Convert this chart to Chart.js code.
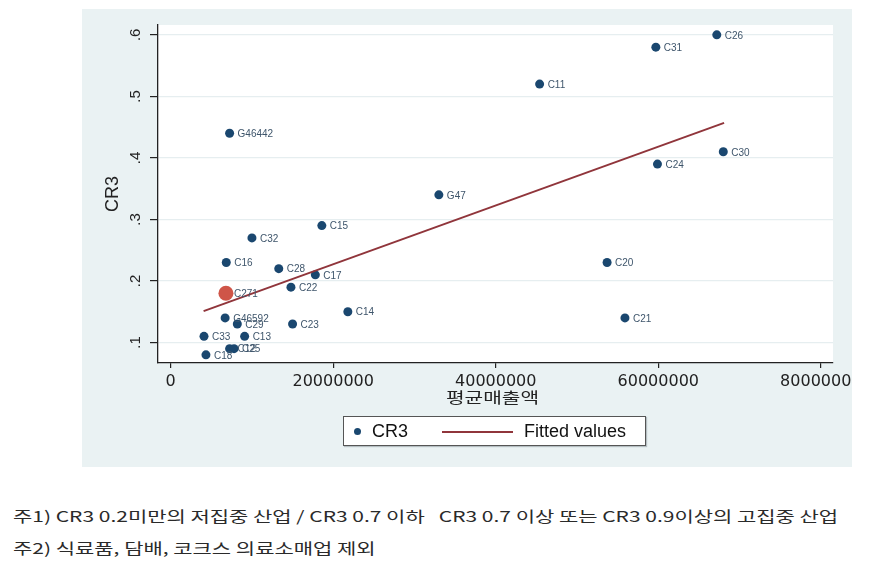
<!DOCTYPE html>
<html>
<head>
<meta charset="utf-8">
<script src="https://cdn.jsdelivr.net/npm/chart.js@4.4.1/dist/chart.umd.min.js"></script>
<style>
    body { margin: 0; width: 870px; height: 576px; background: #fff; position: relative; overflow: hidden;
           font-family: "Liberation Sans", Arial, sans-serif; }
    #panel { position: absolute; left: 82px; top: 9px; width: 770px; height: 458px; background: #eaf2f3; }
    #legend { position: absolute; left: 343px; top: 416px; width: 301px; height: 28px; background: #fff;
              border: 1px solid #555; box-shadow: 1px 1px 1px #b5bfc2; }
    #legend .dot { position: absolute; left: 10px; top: 11px; width: 7px; height: 7px; border-radius: 50%; background: #1a476f; }
    #legend .txt { position: absolute; top: 0; line-height: 28px; font-size: 18px; color: #111; white-space: nowrap; }
    #legend .ln { position: absolute; left: 98px; top: 14px; width: 71px; height: 2px; background: #90353b; }
    .note { position: absolute; left: 13px; font-family: "Noto Sans CJK KR", sans-serif; font-size: 15px;
            line-height: 20px; color: #2a2a2a; white-space: pre; transform-origin: left center; }
</style>
</head>
<body>
<div id="panel"><canvas id="chart"></canvas></div>
<div id="legend">
    <div class="dot"></div>
    <div class="txt" style="left:28px">CR3</div>
    <div class="ln"></div>
    <div class="txt" style="left:180px">Fitted values</div>
</div>
<div class="note" id="note1" style="top:506px">주1) CR3 0.2미만의 저집중 산업 / CR3 0.7 이하   CR3 0.7 이상 또는 CR3 0.9이상의 고집중 산업</div>
<div class="note" id="note2" style="top:538px">주2) 식료품, 담배, 코크스 의료소매업 제외</div>

<script>
// industry codes, average sales (x) and CR3 (y)
const industries = ['C26', 'C31', 'C11', 'C30', 'C24', 'G46442', 'G47', 'C15', 'C32', 'C16', 'C28', 'C17', 'C22',
    'C271', 'C14', 'G46592', 'C29', 'C23', 'C33', 'C13', 'C12', 'C25', 'C18', 'C20', 'C21'];
const avgSales = [67.2e6, 59.7e6, 45.4e6, 68.0e6, 59.9e6, 7.25e6, 33.0e6, 18.6e6, 10.0e6, 6.84e6, 13.3e6, 17.8e6, 14.8e6,
    6.8e6, 21.8e6, 6.7e6, 8.2e6, 15.0e6, 4.1e6, 9.1e6, 7.25e6, 7.8e6, 4.34e6, 53.7e6, 55.9e6];
const cr3 = [0.60, 0.58, 0.52, 0.41, 0.39, 0.44, 0.34, 0.29, 0.27, 0.23, 0.22, 0.21, 0.19,
    0.18, 0.15, 0.14, 0.13, 0.13, 0.11, 0.11, 0.09, 0.09, 0.08, 0.23, 0.14];
const highlighted = 'C271';

// fitted line end points
const fitX = [4.05e6, 68.1e6];
const fitY = [0.151, 0.457];

const xTicks = [0, 20000000, 40000000, 60000000, 80000000];
const yTicks = [0.1, 0.2, 0.3, 0.4, 0.5, 0.6];

const navy = '#1a476f';
const maroon = '#90353b';

const plotBg = {
    id: 'plotBg',
    beforeDraw(chart) {
        const { ctx, chartArea: a } = chart;
        ctx.save();
        ctx.fillStyle = '#fff';
        ctx.fillRect(a.left, a.top, a.right - a.left, a.bottom - a.top);
        ctx.restore();
    }
};

const pointLabels = {
    id: 'pointLabels',
    afterDatasetsDraw(chart) {
        const ctx = chart.ctx;
        const meta = chart.getDatasetMeta(0);
        ctx.save();
        ctx.font = '10px "Liberation Sans", Arial, sans-serif';
        ctx.fillStyle = '#3e556b';
        ctx.textBaseline = 'middle';
        meta.data.forEach((pt, i) => {
            ctx.fillText(industries[i], pt.x + 8, pt.y + 1);
        });
        ctx.restore();
    }
};

const xTitle = {
    id: 'xTitle',
    afterDraw(chart) {
        const ctx = chart.ctx;
        const a = chart.chartArea;
        ctx.save();
        ctx.translate((a.left + a.right) / 2 - 3, 388);
        ctx.scale(1.35, 1);
        ctx.font = '15px "Noto Sans CJK KR", sans-serif';
        ctx.fillStyle = '#222';
        ctx.textAlign = 'center';
        ctx.textBaseline = 'middle';
        ctx.fillText('평균매출액', 0, 0);
        ctx.restore();
    }
};

new Chart(document.getElementById('chart'), {
    type: 'scatter',
    data: {
        datasets: [{
            label: 'CR3',
            data: industries.map((n, i) => ({ x: avgSales[i], y: cr3[i] })),
            backgroundColor: ctx => industries[ctx.dataIndex] === highlighted ? '#cf5548' : navy,
            borderWidth: 0,
            pointRadius: ctx => industries[ctx.dataIndex] === highlighted ? 7.5 : 4.5,
            order: 1
        }, {
            type: 'line',
            label: 'Fitted values',
            data: fitX.map((x, i) => ({ x: x, y: fitY[i] })),
            borderColor: maroon,
            borderWidth: 2,
            pointRadius: 0,
            fill: false,
            order: 0
        }]
    },
    options: {
        responsive: true,
        maintainAspectRatio: false,
        animation: false,
        layout: { padding: { left: 0, right: 19, top: 16, bottom: 0 } },
        plugins: { legend: { display: false }, tooltip: { enabled: false } },
        scales: {
            x: {
                type: 'linear',
                min: -1.56e6,
                max: 81.5e6,
                afterBuildTicks: s => { s.ticks = xTicks.map(v => ({ value: v })); },
                afterFit: s => { s.height = 104; s.paddingLeft = 0; s.paddingRight = 0; },
                grid: { drawOnChartArea: false, tickLength: 5, tickColor: '#222', lineWidth: 1.2 },
                border: { color: '#222', width: 1.3 },
                ticks: {
                    padding: 4,
                    color: '#222',
                    maxRotation: 0,
                    font: { family: 'DejaVu Sans', size: 16 },
                    callback: v => String(v)
                }
            },
            y: {
                min: 0.0667,
                max: 0.616,
                afterBuildTicks: s => { s.ticks = yTicks.map(v => ({ value: v })); },
                afterFit: s => { s.width = 76; s.paddingTop = 0; s.paddingBottom = 0; },
                grid: { color: '#e6eef0', lineWidth: 1.2, tickLength: 8, tickColor: '#222' },
                border: { color: '#222', width: 1.3 },
                ticks: {
                    padding: 8,
                    color: '#222',
                    minRotation: 90,
                    maxRotation: 90,
                    crossAlign: 'center',
                    font: { family: 'Liberation Sans', size: 15 },
                    callback: v => String(Math.round(v * 10) / 10).replace('0.', '.')
                },
                title: {
                    display: true,
                    text: 'CR3',
                    color: '#222',
                    font: { family: 'Liberation Sans', size: 18 },
                    padding: { top: 20, bottom: 0 }
                }
            }
        }
    },
    plugins: [plotBg, pointLabels, xTitle]
});

// stretch the notes to the width they take in the picture
const n1 = document.getElementById('note1');
const n2 = document.getElementById('note2');
const k = 825 / n1.scrollWidth;
n1.style.transform = `scaleX(${k})`;
n2.style.transform = `scaleX(${k})`;
</script>
</body>
</html>
